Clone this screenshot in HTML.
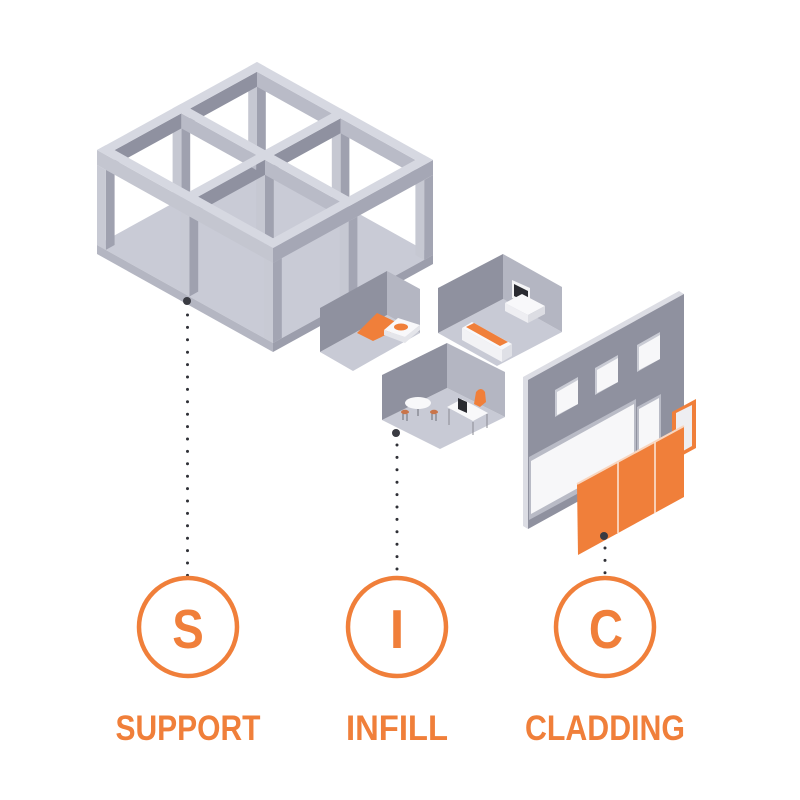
<!DOCTYPE html>
<html><head><meta charset="utf-8"><style>html,body{margin:0;padding:0;background:#fff}svg{display:block}</style></head>
<body>
<svg width="800" height="800" viewBox="0 0 800 800" xmlns="http://www.w3.org/2000/svg">
<rect width="800" height="800" fill="#fff"/>

<!-- ===== SUPPORT FRAME ===== -->
<!-- floor slab top -->
<g transform="matrix(1.76 .98 -1.6 .88 257 157)"><rect width="100" height="100" fill="#c9cbd6"/></g>
<!-- slab sides -->
<g transform="matrix(1.76 .98 0 -1 97 245)"><rect x="0" y="-9" width="100" height="9" fill="#b4b6c2"/></g>
<g transform="matrix(-1.6 .88 0 -1 433 255)"><rect x="0" y="-9" width="100" height="9" fill="#9c9eac"/></g>

<!-- columns: +a faces dark, +b faces light -->
<g fill="#9fa1af">
<g transform="matrix(-1.6 .88 0 -1 265.8 161.9)"><rect x="0" y="0" width="5.5" height="80"/><rect x="47.25" y="0" width="5.5" height="80"/><rect x="94.5" y="0" width="5.5" height="80"/></g>
<g transform="matrix(-1.6 .88 0 -1 349.4 208.45)"><rect x="0" y="0" width="5.5" height="80"/><rect x="47.25" y="0" width="5.5" height="80"/></g>
</g>
<g fill="#c6c8d2">
<g transform="matrix(1.76 .98 0 -1 248.2 161.84)"><rect x="0" y="0" width="5" height="80"/><rect x="47.5" y="0" width="5" height="80"/><rect x="95" y="0" width="5" height="80"/></g>
<g transform="matrix(1.76 .98 0 -1 172.6 203.42)"><rect x="0" y="0" width="5" height="80"/><rect x="47.5" y="0" width="5" height="80"/></g>
</g>
<!-- front-ish columns -->
<g transform="matrix(-1.6 .88 0 -1 433 255)" fill="#a3a5b3"><rect x="0" y="0" width="5.5" height="80"/><rect x="47.25" y="0" width="5.5" height="80"/><rect x="94.5" y="0" width="5.5" height="80"/></g>
<g transform="matrix(1.76 .98 0 -1 172.6 203.42)" fill="#c6c8d2"><rect x="95" y="0" width="5" height="80"/></g>
<g transform="matrix(-1.6 .88 0 -1 349.4 208.45)" fill="#9fa1af"><rect x="94.5" y="0" width="5.5" height="80"/></g>
<g transform="matrix(1.76 .98 0 -1 97 245)" fill="#c8cad4"><rect x="0" y="0" width="5" height="80"/><rect x="47.5" y="0" width="5" height="80"/><rect x="95" y="0" width="5" height="80"/></g>

<!-- beams: inner side faces -->
<g transform="matrix(-1.6 .88 0 -1 265.8 161.9)" fill="#8f91a0"><rect x="5.5" y="80" width="41.75" height="15"/><rect x="52.75" y="80" width="41.75" height="15"/></g>
<g transform="matrix(1.76 .98 0 -1 248.2 161.84)" fill="#b9bbc7"><rect x="5" y="80" width="42.5" height="15"/><rect x="52.5" y="80" width="42.5" height="15"/></g>
<g transform="matrix(-1.6 .88 0 -1 349.4 208.45)" fill="#8f91a0"><rect x="5.5" y="80" width="41.75" height="15"/><rect x="52.75" y="80" width="41.75" height="15"/></g>
<g transform="matrix(1.76 .98 0 -1 172.6 203.42)" fill="#b9bbc7"><rect x="5" y="80" width="42.5" height="15"/><rect x="52.5" y="80" width="42.5" height="15"/></g>
<!-- outer side faces -->
<g transform="matrix(-1.6 .88 0 -1 433 255)"><rect x="0" y="80" width="100" height="15" fill="#a5a7b5"/></g>
<g transform="matrix(1.76 .98 0 -1 97 245)"><rect x="0" y="80" width="100" height="15" fill="#c4c6d0"/></g>
<!-- beam tops -->
<g transform="matrix(1.76 .98 -1.6 .88 257 62)" fill="#d6d8e1">
<rect x="0" y="0" width="5" height="100"/><rect x="47.5" y="0" width="5" height="100"/><rect x="95" y="0" width="5" height="100"/>
<rect x="0" y="0" width="100" height="5.5"/><rect x="0" y="47.25" width="100" height="5.5"/><rect x="0" y="94.5" width="100" height="5.5"/>
</g>

<!-- ===== ROOM 1 (bedroom) ===== -->
<polygon points="320,352 387,315 420,333 353,371" fill="#c8cad5"/>
<polygon points="320,308 387,271 387,315 320,352" fill="#8f919f"/>
<polygon points="387,271 420,289 420,333 387,315" fill="#b4b6c2"/>
<polygon points="357,333 377,313 396,322 396,330 373,341" fill="#f07f3a"/>
<polygon points="384,330 384,335 405,343 420,330 420,325 405,337" fill="#e4e5ea"/>
<polygon points="384,330 398,318 420,325 405,337" fill="#f8f8fa"/>
<ellipse cx="401" cy="327" rx="7" ry="3.5" fill="#f07f3a"/>

<!-- ===== ROOM 2 (living) ===== -->
<polygon points="438,333 503,299 562,332 497,366" fill="#c8cad5"/>
<polygon points="438,288 503,254 503,299 438,333" fill="#8f919f"/>
<polygon points="503,254 562,287 562,332 503,299" fill="#b4b6c2"/>
<!-- TV -->
<polygon points="512,280 530,288 530,306 512,298" fill="#f4f4f6"/>
<polygon points="514,284 528,291 528,303 514,296" fill="#2a2b31"/>
<!-- TV stand -->
<polygon points="505,303 522,294 545,306 528,315" fill="#f8f8fa"/>
<polygon points="505,303 528,315 528,323 505,311" fill="#eeeef2"/>
<polygon points="528,315 545,306 545,314 528,323" fill="#dcdde3"/>
<!-- sofa -->
<polygon points="462,328 472,322 512,344 502,350" fill="#f8f8fa"/>
<polygon points="462,328 502,350 502,362 462,340" fill="#f2f2f5"/>
<polygon points="502,350 512,344 512,356 502,362" fill="#dfe0e6"/>
<polygon points="466,327 474,323 508,342 500,346" fill="#f07f3a"/>

<!-- ===== ROOM 3 (office) ===== -->
<polygon points="382,420 447,388 505,417 440,449" fill="#c8cad5"/>
<polygon points="382,375 447,343 447,388 382,420" fill="#8f919f"/>
<polygon points="447,343 505,372 505,417 447,388" fill="#b4b6c2"/>
<!-- round table & chairs -->
<g stroke="#6d6e76" stroke-width="1">
<line x1="403" y1="413" x2="403" y2="420"/><line x1="407" y1="414" x2="407" y2="421"/>
<line x1="432" y1="413" x2="432" y2="420"/><line x1="436" y1="414" x2="436" y2="421"/>
<line x1="418" y1="405" x2="418" y2="416"/>
</g>
<ellipse cx="418" cy="403" rx="13" ry="6" fill="#f8f8fa"/>
<ellipse cx="405" cy="412" rx="4" ry="2.2" fill="#c9754a"/>
<ellipse cx="434" cy="412" rx="4" ry="2.2" fill="#c9754a"/>
<!-- desk -->
<g stroke="#8a8b93" stroke-width="1">
<line x1="449" y1="409" x2="449" y2="425"/><line x1="473" y1="422" x2="473" y2="435"/><line x1="487" y1="414" x2="487" y2="428"/>
</g>
<polygon points="447,407 462,399 488,413 473,421" fill="#f8f8fa"/>
<polygon points="458,398 467,402 467,413 458,409" fill="#2a2b31"/>
<path d="M476,392 q5,-6 9,0 l1,10 l-6,5 l-6,-3 z" fill="#f07f3a"/>

<!-- ===== CLADDING ===== -->
<polygon points="523,377 679,291 684,294 684,443 528,529 523,526" fill="#dcdde4"/>
<polygon points="528,380 684,294 684,443 528,529" fill="#8f919f"/>
<!-- small windows -->
<polygon points="555,390 578,377 578,404 555,417" fill="#c9cbd4"/>
<polygon points="557,392 578,380 578,404 557,415" fill="#f7f7f9"/>
<polygon points="595,368 618,355 618,382 595,395" fill="#c9cbd4"/>
<polygon points="597,370 618,358 618,382 597,393" fill="#f7f7f9"/>
<polygon points="637,345 660,332 660,359 637,372" fill="#c9cbd4"/>
<polygon points="639,347 660,335 660,359 639,370" fill="#f7f7f9"/>
<!-- big window -->
<polygon points="529,457 636,399 636,462 529,520" fill="#b9bbc6"/>
<polygon points="531,461 634,404 634,457 531,514" fill="#f7f7f9"/>
<!-- door -->
<polygon points="637,407 661,394 661,462 637,475" fill="#b9bbc6"/>
<polygon points="639,409 659,398 659,460 639,471" fill="#f7f7f9"/>
<!-- orange door frame -->
<polygon points="672,412 696,399 696,448 672,461" fill="#f07f3a"/>
<polygon points="676,413 692,405 692,446 676,455" fill="#eeeef1"/>
<!-- orange cladding panels -->
<polygon points="577,484 684,426 684,497 578,555" fill="#f07f3a"/>
<line x1="577" y1="484" x2="684" y2="426" stroke="#f8d6c0" stroke-width="2"/>
<line x1="618" y1="462" x2="618" y2="533" stroke="#fbe3d3" stroke-width="1.6"/>
<line x1="655" y1="442" x2="655" y2="513" stroke="#fbe3d3" stroke-width="1.6"/>

<!-- ===== DOTTED CONNECTORS ===== -->
<g fill="#3a3b42">
<circle cx="187" cy="301" r="4"/>
<circle cx="396" cy="433" r="4"/>
<circle cx="604" cy="536" r="4"/>
</g>
<g stroke="#2f3036" stroke-width="3" stroke-linecap="round" stroke-dasharray="0 12.4">
<line x1="187.5" y1="315" x2="187.5" y2="578"/>
<line x1="397" y1="445" x2="397" y2="578"/>
<line x1="605" y1="548" x2="605" y2="578"/>
</g>

<!-- ===== CIRCLES & LABELS ===== -->
<g fill="none" stroke="#f07f3a" stroke-width="4.5">
<circle cx="188" cy="627" r="49"/>
<circle cx="397" cy="627" r="49"/>
<circle cx="605" cy="627" r="49"/>
</g>
<g fill="#f07f3a" font-family="'Liberation Sans', 'DejaVu Sans', sans-serif" font-weight="bold" text-anchor="middle">
<text transform="translate(188 648) scale(0.86 1)" font-size="55">S</text>
<text transform="translate(397 648) scale(0.95 1)" font-size="55">I</text>
<text transform="translate(606 648) scale(0.86 1)" font-size="55">C</text>
<text x="188" y="740" font-size="35" textLength="145" lengthAdjust="spacingAndGlyphs">SUPPORT</text>
<text x="397" y="740" font-size="35" textLength="102" lengthAdjust="spacingAndGlyphs">INFILL</text>
<text x="605" y="740" font-size="35" textLength="160" lengthAdjust="spacingAndGlyphs">CLADDING</text>
</g>
</svg>
</body></html>
